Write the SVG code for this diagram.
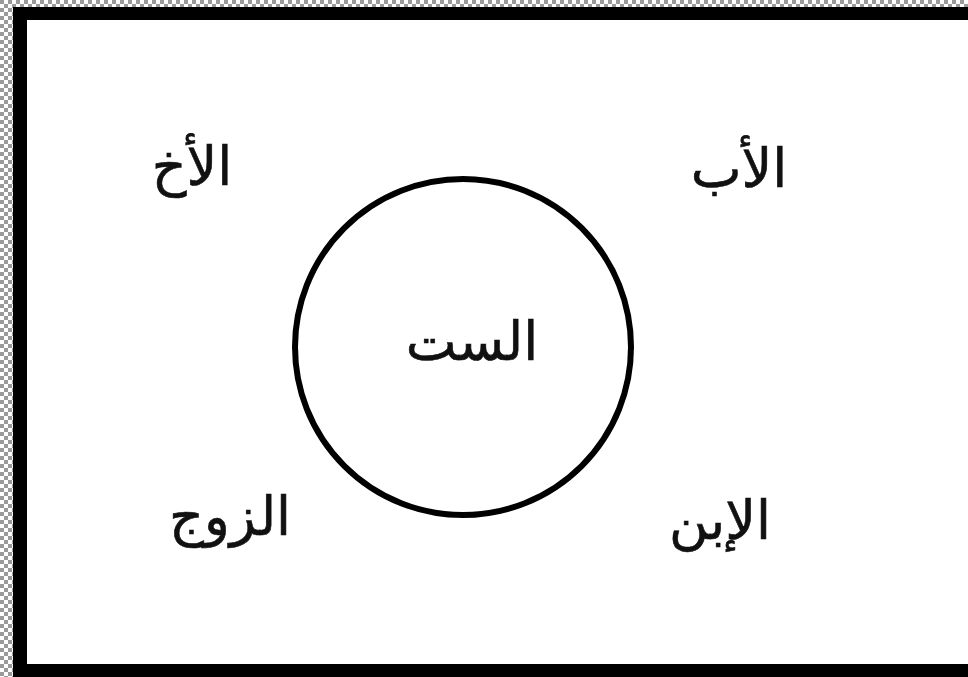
<svg xmlns="http://www.w3.org/2000/svg" width="968" height="677" viewBox="0 0 968 677">
<defs>
<pattern id="chk" width="8" height="8" patternUnits="userSpaceOnUse">
<rect width="8" height="8" fill="#ffffff"/>
<rect width="4" height="4" fill="#9a9a9a"/>
<rect x="4" y="4" width="4" height="4" fill="#9a9a9a"/>
</pattern>
</defs>
<style>
.lbl{font-family:"DejaVu Sans","Noto Sans",sans-serif;font-size:54px;fill:#111;text-anchor:middle;dominant-baseline:middle;direction:rtl;stroke:#111;stroke-width:0.6}
</style>
<rect x="0" y="0" width="968" height="677" fill="url(#chk)"/>
<rect x="13" y="7" width="955" height="670" fill="#000"/>
<rect x="27" y="20" width="941" height="644" fill="#fff"/>
<g id="center">
<circle cx="463" cy="347" r="168" fill="none" stroke="#000" stroke-width="6"/>
<text class="lbl" x="472" y="345">الست</text>
</g>
<g id="brother"><text class="lbl" x="192" y="170">الأخ</text></g>
<g id="father"><text class="lbl" x="739" y="172">الأب</text></g>
<g id="husband"><text class="lbl" x="230" y="520">الزوج</text></g>
<g id="son"><text class="lbl" x="720" y="524">الإبن</text></g>
<g id="connectors"></g>
</svg>
